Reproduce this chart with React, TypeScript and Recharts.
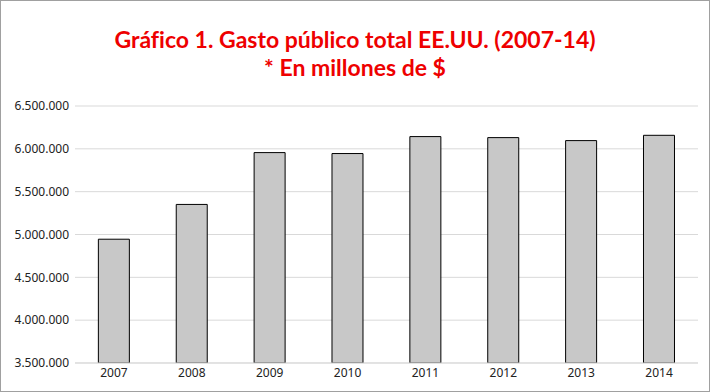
import { BarChart, Bar, XAxis, YAxis, CartesianGrid } from "recharts";

const YEARS = ["2007", "2008", "2009", "2010", "2011", "2012", "2013", "2014"];
const SPENDING = [4945000, 5351000, 5956000, 5945000, 6143000, 6131000, 6096000, 6158000];
const Y_TICKS = [3500000, 4000000, 4500000, 5000000, 5500000, 6000000, 6500000];

const data = YEARS.map((year, i) => ({ year, value: SPENDING[i] }));

const fmt = (v: number) => String(v).replace(/\B(?=(\d{3})+(?!\d))/g, ".");

const tickStyle = { fill: "#222", fontSize: 12, fontFamily: "'Noto Sans', sans-serif" };

export default function App() {
  return (
    <div
      style={{
        position: "absolute",
        left: 0,
        top: 0,
        width: 710,
        height: 392,
        boxSizing: "border-box",
        border: "1px solid #a0a0a0",
        background: "#fff",
      }}
    >
      <div
        style={{
          position: "absolute",
          left: 0,
          top: 24,
          width: 708,
          textAlign: "center",
          color: "#ee0000",
          fontFamily: "Lato, 'Open Sans', sans-serif",
          fontWeight: 700,
          fontSize: 23,
          lineHeight: "28px",
          fontVariantLigatures: "none",
        }}
      >
        Gráfico 1. Gasto público total EE.UU. (2007-14)
        <br />* En millones de $
      </div>
      <BarChart
        width={708}
        height={390}
        data={data}
        margin={{ top: 105, right: 11, bottom: 0, left: 0 }}
        barCategoryGap="30%"
      >
        <CartesianGrid vertical={false} stroke="#d9d9d9" />
        <XAxis
          dataKey="year"
          height={28}
          stroke="#d9d9d9"
          tickLine={false}
          tickSize={0}
          tickMargin={5}
          tick={tickStyle}
        />
        <YAxis
          width={74}
          domain={[3500000, 6500000]}
          ticks={Y_TICKS}
          tickFormatter={fmt}
          axisLine={false}
          tickLine={false}
          tickSize={0}
          tickMargin={6}
          allowDataOverflow
          tick={tickStyle}
        />
        <Bar dataKey="value" fill="#c8c8c8" stroke="#000" strokeWidth={1} isAnimationActive={false} />
      </BarChart>
    </div>
  );
}
